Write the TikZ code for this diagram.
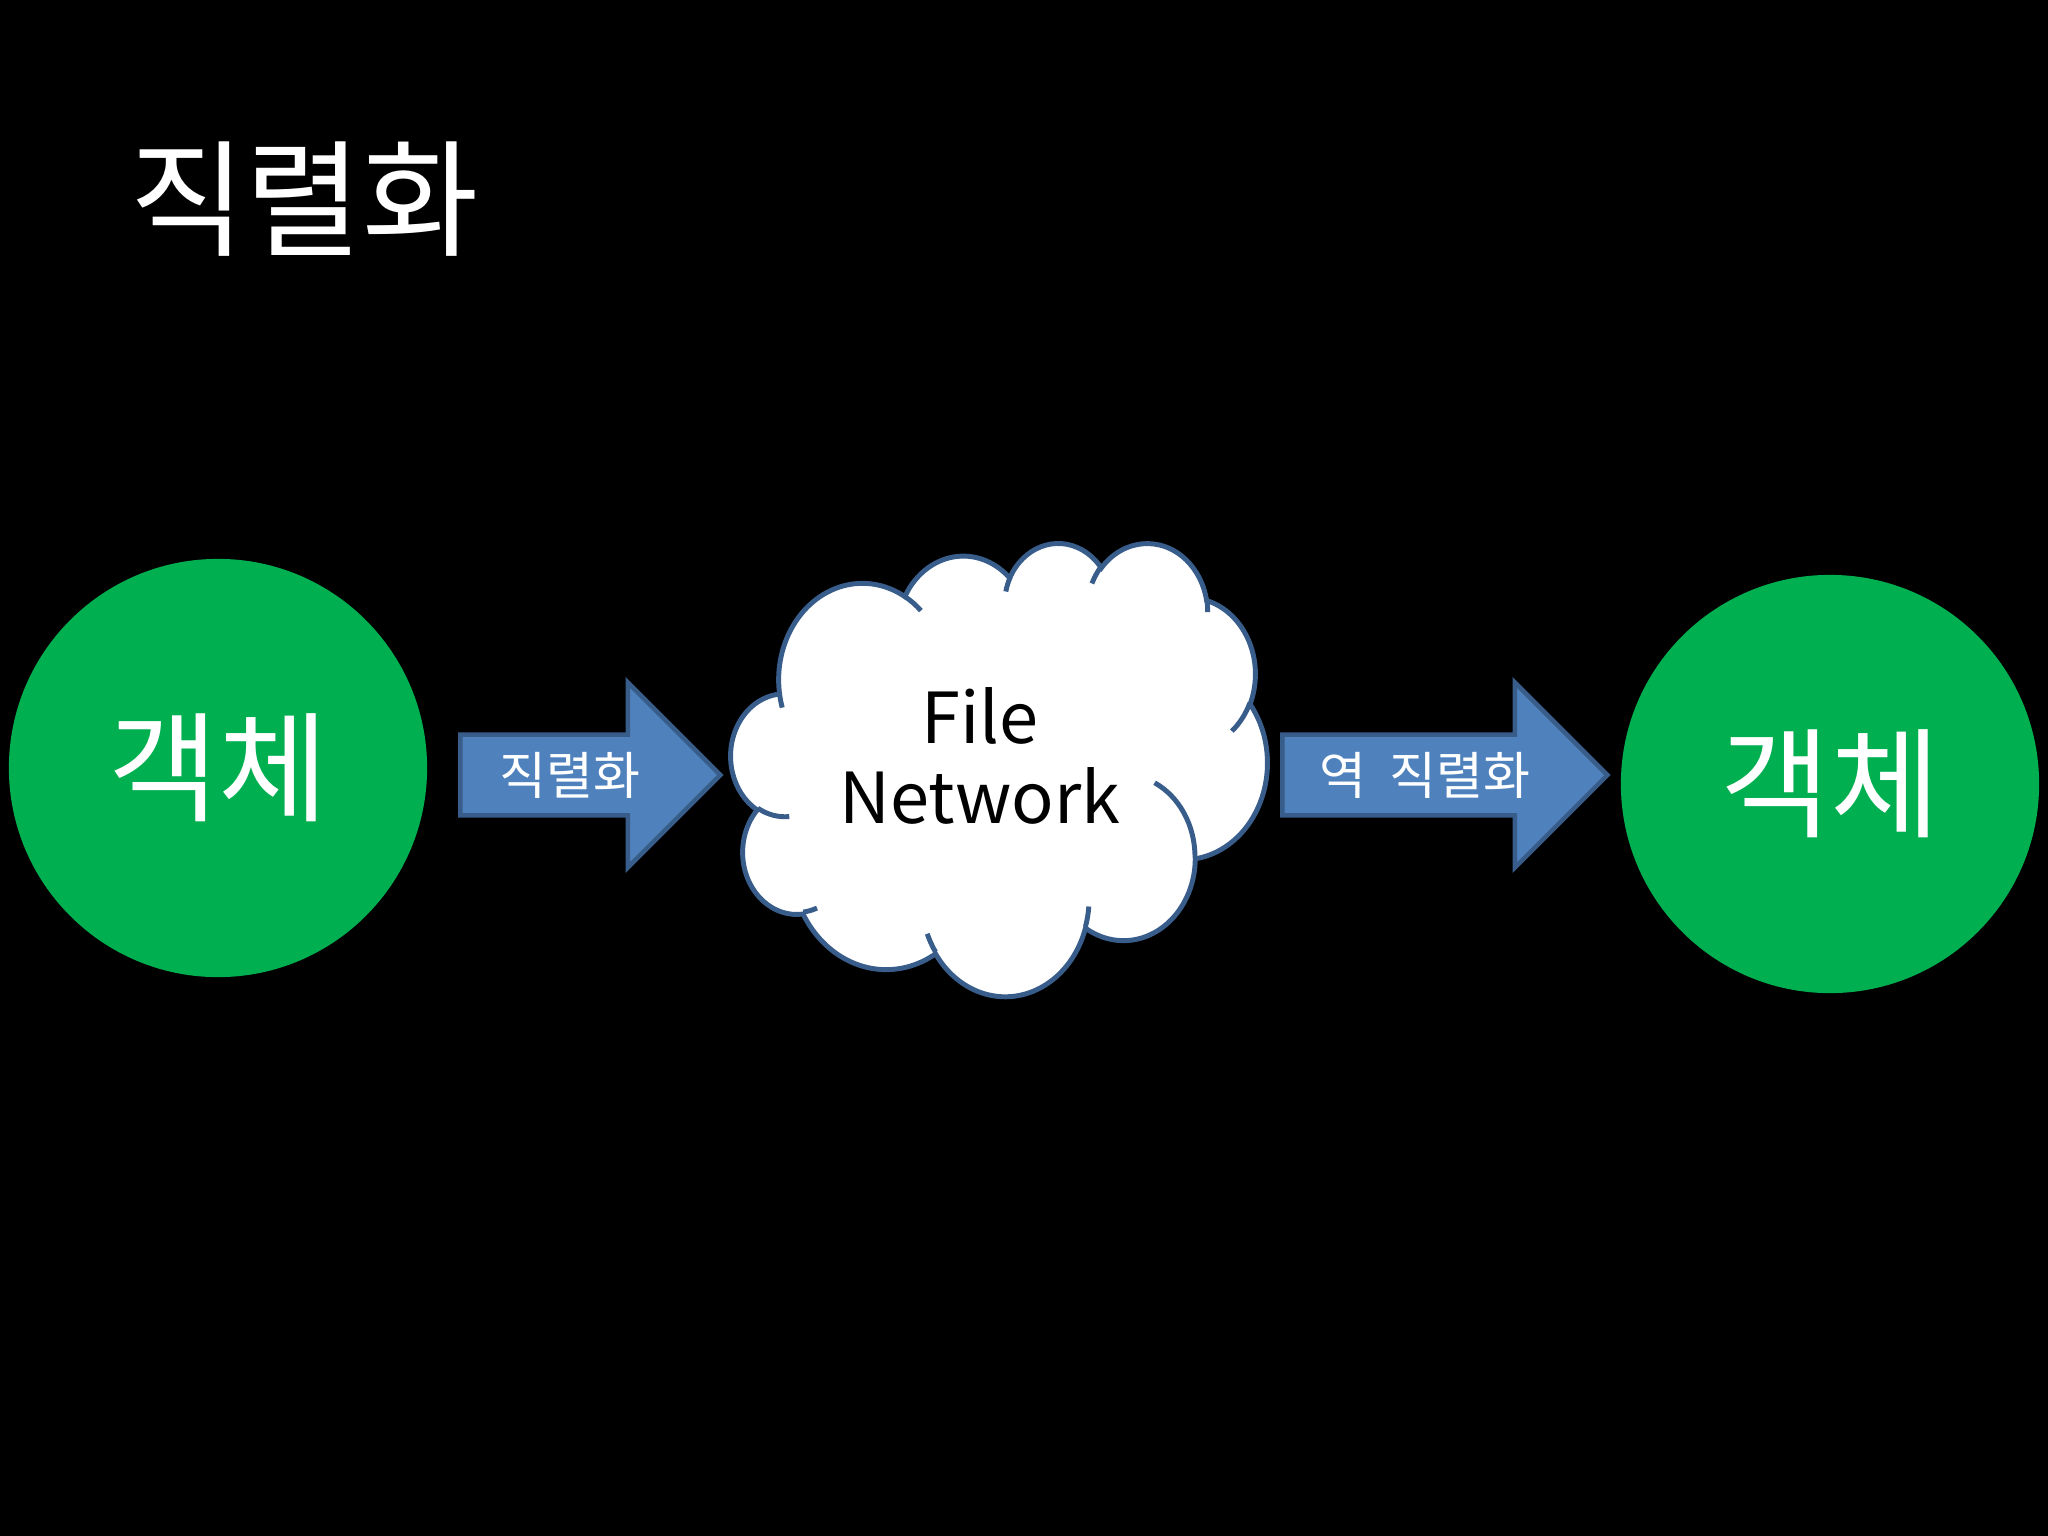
\documentclass[tikz,border=0pt]{standalone}
\usepackage{fontspec}
\setmainfont{Noto Sans CJK KR}
\usepackage{xcolor}
\usepackage{tikz}
\usetikzlibrary{shapes.arrows}

\definecolor{objgreen}{HTML}{00B050}
\definecolor{arrowfill}{HTML}{4F81BD}
\definecolor{arrowline}{HTML}{385D8A}

% arcs of the cloud outline: target, x radius, y radius, start, sweep
\newcommand\cloudarc[5]{%
  \pgfmathsetmacro\cla{atan2((#2)*sin(#4),(#3)*cos(#4))}%
  \pgfmathsetmacro\clb{atan2((#2)*sin(#4+#5),(#3)*cos(#4+#5))}%
  \pgfmathsetmacro\cld{\clb-\cla}%
  \pgfmathsetmacro\cld{\cld+360*((#5)>0)*(\cld<0)-360*((#5)<0)*(\cld>0)}%
  \xdef#1{#1 arc[start angle=\cla, delta angle=\cld, x radius=#2, y radius=#3]}}
\newcommand\cloudmove[3]{\xdef#1{#1 (#2,#3)}}

\def\cloudpath{}
\cloudmove\cloudpath{39.00}{143.70}
\cloudarc\cloudpath{67.53}{91.90}{-190.4875}{123.7805}
\cloudarc\cloudpath{53.33}{72.67}{-144.1024}{89.9452}
\cloudarc\cloudpath{43.65}{59.45}{-145.8079}{99.7230}
\cloudarc\cloudpath{48.57}{65.95}{-130.9861}{117.2417}
\cloudarc\cloudpath{53.33}{72.73}{-78.7089}{109.0269}
\cloudarc\cloudpath{67.75}{92.20}{-46.2673}{130.2690}
\cloudarc\cloudpath{57.85}{78.67}{0.6250}{114.0333}
\cloudarc\cloudpath{67.52}{92.15}{22.4516}{115.1726}
\cloudarc\cloudpath{77.20}{105.43}{66.2426}{75.7110}
\cloudarc\cloudpath{43.60}{59.18}{-274.9421}{146.7356}
\cloudarc\cloudpath{43.45}{59.45}{-246.8285}{152.5189}

\def\cloudstubs{}
\cloudmove\cloudstubs{46.93}{261.77}
\cloudarc\cloudstubs{43.45}{59.45}{86.7420}{26.4295}
\cloudmove\cloudstubs{69.28}{348.99}
\cloudarc\cloudstubs{43.60}{59.18}{73.6105}{11.4475}
\cloudmove\cloudstubs{164.78}{390.90}
\cloudarc\cloudstubs{67.52}{92.15}{137.6242}{14.0811}
\cloudmove\cloudstubs{288.27}{347.51}
\cloudarc\cloudstubs{67.52}{92.15}{6.4533}{15.9984}
\cloudmove\cloudstubs{341.29}{229.54}
\cloudarc\cloudstubs{57.85}{78.67}{-70.2924}{70.9174}
\cloudmove\cloudstubs{417.98}{153.54}
\cloudarc\cloudstubs{53.33}{72.73}{30.3180}{27.7515}
\cloudmove\cloudstubs{383.24}{54.26}
\cloudarc\cloudstubs{48.57}{65.95}{-13.7443}{14.8589}
\cloudmove\cloudstubs{290.78}{39.52}
\cloudarc\cloudstubs{48.57}{65.95}{-149.1815}{18.1954}
\cloudmove\cloudstubs{221.41}{47.20}
\cloudarc\cloudstubs{43.65}{59.45}{-163.4943}{17.6864}
\cloudmove\cloudstubs{140.00}{51.92}
\cloudarc\cloudstubs{67.53}{91.90}{-66.7070}{12.3194}
\cloudmove\cloudstubs{41.27}{157.89}
\cloudarc\cloudstubs{67.53}{91.90}{157.6544}{11.8582}

\begin{document}
\begin{tikzpicture}[
    x=0.01cm, y=-0.01cm,
    obj/.style={circle, fill=objgreen, minimum size=4.18cm, inner sep=0pt, text=white, font=\fontsize{34}{40}\selectfont},
    blockarrow/.style={single arrow, draw=arrowline, fill=arrowfill, line width=1.3pt, single arrow head extend=0.48cm, single arrow tip angle=90, minimum width=1.85cm, anchor=tail, text=white, font=\fontsize{14.5}{17}\selectfont},
    cloudline/.style={draw=arrowline, line width=1.4pt}
]
    \fill[black] (0,0) rectangle (2048,1536);
    \useasboundingbox (0,0) rectangle (2048,1536);

    \node[text=white, font=\fontsize{36}{42}\selectfont] (title) at (304,199) {직렬화};

    \node[obj] (src) at (218,768) {객체};
    \node[obj] (dst) at (1830,784) {객체};

    \begin{scope}[shift={(731,542)}, x=0.012407cm, y=-0.010486cm]
        \filldraw[cloudline, fill=white] \cloudpath -- cycle;
        \draw[cloudline] \cloudstubs;
    \end{scope}
    \node[align=center, font=\fontsize{20}{23}\selectfont] (medium) at (980,756) {File\\Network};

    \node[blockarrow, minimum height=2.6cm] (ser) at (458,775) {직렬화};
    \node[blockarrow, minimum height=3.25cm] (deser) at (1280,775) {역\ \ 직렬화};
\end{tikzpicture}
\end{document}
